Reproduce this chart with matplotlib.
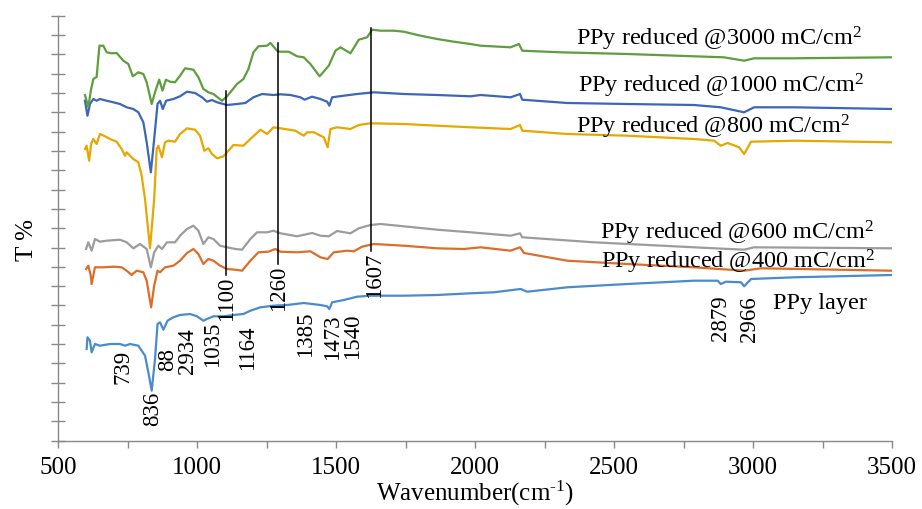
import matplotlib
matplotlib.use('Agg')
import matplotlib.pyplot as plt
import numpy as np

plt.rcParams['font.family'] = ['Liberation Serif', 'DejaVu Serif']
plt.rcParams['mathtext.fontset'] = 'custom'
plt.rcParams['mathtext.rm'] = 'Liberation Serif'
plt.rcParams['mathtext.it'] = 'Liberation Serif:italic'
plt.rcParams['mathtext.bf'] = 'Liberation Serif:bold'

# ---------------- data (wavenumber, offset transmittance) ----------------
wn_layer = [603, 606, 615, 621, 633, 651, 687, 723, 741, 759,
            789, 813, 825, 837, 849, 858, 867, 879, 894, 915,
            939, 975, 1000, 1023, 1036, 1059, 1095, 1131, 1167, 1192,
            1228, 1275, 1324, 1384, 1444, 1468, 1476, 1486, 1528, 1576,
            1624, 1744, 1864, 1984, 2068, 2164, 2188, 2332, 2548, 2788,
            2873, 2884, 2903, 2957, 2968, 2993, 3149, 3500]
t_layer = [91.7, 103.4, 100, 88.4, 96.7, 95, 96.7, 96.7, 95, 96.7,
           95, 85, 68.4, 50, 81.7, 116.7, 118.4, 111, 120, 123.4,
           125.7, 126.7, 124.4, 120, 121.7, 124.4, 124.4, 125.7, 126.7, 130,
           133.4, 135, 135.7, 137.7, 135.7, 134.4, 131.7, 138.4, 140.7, 144,
           145, 145, 145.7, 147.4, 148.4, 151.7, 149, 153.4, 156.7, 160,
           160, 156.7, 159, 158.4, 154.4, 161.7, 163.4, 165.7]

wn_400 = [601, 609, 618, 621, 633, 663, 699, 729, 747, 765,
          783, 807, 819, 835, 846, 858, 867, 885, 915, 939,
          964, 987, 1005, 1023, 1041, 1059, 1083, 1108, 1138, 1162,
          1192, 1221, 1257, 1282, 1300, 1360, 1408, 1444, 1470, 1492,
          1540, 1564, 1594, 1636, 1744, 1864, 1960, 2020, 2128, 2162,
          2176, 2332, 2548, 2788, 2968, 3029, 3500]
t_400 = [171.7, 175, 165, 156.7, 173.4, 173.4, 174, 173.4, 170, 165.7,
         170, 168.4, 160, 133.4, 155, 170, 168.4, 173.4, 175, 180,
         187.7, 191.7, 186.7, 176.7, 181.7, 180, 175, 171.7, 171, 170,
         180, 188.4, 189, 191.7, 189, 188.4, 189.4, 183.4, 181.7, 188.4,
         190, 189.4, 194, 196.7, 195, 192.4, 191.7, 193.4, 190, 193.4,
         187.7, 180, 176.7, 173.4, 170, 172.4, 170]

wn_600 = [601, 609, 621, 633, 651, 675, 723, 747, 771, 795,
          819, 834, 846, 861, 874, 892, 921, 939, 964, 987,
          1005, 1023, 1041, 1059, 1083, 1108, 1138, 1162, 1192, 1216,
          1252, 1275, 1300, 1360, 1414, 1444, 1474, 1504, 1552, 1582,
          1624, 1660, 1744, 1864, 1984, 2128, 2162, 2170, 2428, 2788,
          2968, 3004, 3500]
t_600 = [191.7, 198.4, 190, 201.7, 199, 200, 201, 198.4, 192.4, 196.7,
         191.7, 173.4, 188.4, 195, 191.7, 198.4, 198.4, 205, 211.7, 215,
         210, 196.7, 203.4, 201.7, 195, 193.4, 191.7, 191, 201.7, 208.4,
         208.4, 210, 207.4, 204.4, 207.7, 205, 204.4, 209.7, 207.4, 212.4,
         215.7, 216.7, 214.4, 211, 208.4, 205, 207.4, 203.4, 198.4, 193.4,
         191, 193.4, 192.4]

wn_800 = [597, 603, 612, 619, 627, 639, 651, 669, 687, 711,
          729, 741, 747, 771, 789, 801, 813, 831, 846, 855,
          861, 874, 885, 897, 921, 939, 964, 993, 1011, 1026,
          1041, 1054, 1072, 1095, 1113, 1131, 1167, 1192, 1228, 1252,
          1275, 1300, 1354, 1384, 1396, 1420, 1456, 1470, 1480, 1504,
          1552, 1582, 1624, 1744, 1864, 1984, 2128, 2162, 2170, 2332,
          2548, 2788, 2860, 2884, 2909, 2950, 2968, 2993, 3149, 3500]
t_800 = [291.7, 295, 280, 296.7, 301.7, 296.7, 306.7, 304.4, 301.7, 299,
         291.7, 285, 288.4, 281.7, 278.4, 265, 241.7, 192.4, 241.7, 291.7,
         295, 283.4, 298.4, 300, 299, 306.7, 312.4, 311, 305, 290,
         292.4, 286.7, 282.4, 284.4, 290, 295.7, 295, 301.7, 311, 306.7,
         313.4, 312.4, 310, 305, 308.4, 308.4, 303.4, 293.4, 311.7, 313.4,
         311.7, 315.7, 317.4, 316.7, 315, 313.4, 311.7, 315.7, 310, 306.7,
         305, 301.7, 300, 295, 297.7, 293.4, 286.7, 299, 300, 298.4]

wn_1000 = [597, 606, 615, 627, 639, 651, 675, 699, 723, 747,
           771, 789, 807, 819, 834, 846, 858, 867, 877, 889,
           915, 939, 964, 993, 1018, 1036, 1054, 1072, 1108, 1144,
           1174, 1203, 1234, 1275, 1300, 1336, 1372, 1387, 1414, 1444,
           1468, 1476, 1486, 1528, 1576, 1636, 1744, 1864, 1984, 2020,
           2128, 2162, 2170, 2332, 2548, 2788, 2884, 2968, 3004, 3149,
           3500]
t_1000 = [340, 325, 336.7, 341.7, 340, 341.7, 340, 338.4, 336.7, 333.4,
          331.7, 328.4, 318.4, 298.4, 268.4, 301.7, 336.7, 340, 331.7, 340,
          341.7, 344.4, 349, 347.7, 343.4, 339, 340.7, 338.4, 335.7, 336.7,
          337.7, 343.4, 346.7, 345.7, 346.4, 345.7, 343.4, 341, 344, 341.7,
          339, 335, 343.4, 345, 346.7, 348.4, 346.7, 345.7, 344.4, 345.7,
          343.4, 346.7, 341, 337.7, 336.7, 335.7, 333.4, 328.4, 333.4, 333.4,
          331.7]

wn_3000 = [597, 609, 618, 627, 639, 649, 663, 675, 693, 711,
           735, 753, 769, 789, 807, 819, 837, 849, 864, 876,
           888, 903, 921, 939, 957, 987, 1005, 1023, 1041, 1059,
           1090, 1108, 1144, 1167, 1185, 1203, 1221, 1252, 1264, 1288,
           1294, 1330, 1360, 1384, 1408, 1441, 1474, 1498, 1516, 1552,
           1582, 1612, 1630, 1660, 1708, 1744, 1804, 1864, 1924, 1984,
           2020, 2128, 2158, 2170, 2308, 2548, 2788, 2895, 2968, 3004,
           3149, 3500]
t_3000 = [345.7, 333.7, 350, 361.7, 363.7, 395, 395, 388.4, 387.4, 387.7,
          380, 376.7, 364.4, 368.4, 366.7, 358.4, 336.7, 348.4, 361, 350,
          361, 359, 358.4, 365, 372.4, 371, 363.4, 351.7, 348.4, 346.7,
          340, 344.4, 356.7, 361.7, 371.7, 388.4, 394.4, 395, 397.7, 390,
          389, 389, 384.4, 383.4, 376.7, 364.4, 375, 390, 393.4, 387.4,
          401, 403.4, 411, 410, 410, 409, 405, 401.7, 399, 396.7,
          395, 393.4, 396.7, 390, 388.4, 386.7, 384.4, 383.4, 380, 382.4,
          382.4, 383.4]

series_labels = ['PPy layer', 'PPy reduced @400 mC/cm$^2$', 'PPy reduced @600 mC/cm$^2$',
                 'PPy reduced @800 mC/cm$^2$', 'PPy reduced @1000 mC/cm$^2$',
                 'PPy reduced @3000 mC/cm$^2$']
label_wn = [3072, 2452, 2450, 2362, 2371, 2362]
label_y = [132.4, 173.4, 202.4, 308.4, 349, 396.7]

vline_wn = [1105, 1291, 1625]
vline_top = [349.4, 397.4, 412.4]
vline_bottom = [165.7, 176.7, 189.7]
vline_text = ['1100', '1260', '1607']
vline_text_wn = [1105, 1295, 1637]

peak_text = ['739', '836', '88', '2934', '1035', '1164', '1385', '1473', '1540', '2879', '2966']
peak_wn = [735, 840, 896, 965, 1057, 1183, 1390, 1486, 1558, 2884, 2989]
peak_top = [91.7, 49.7, 93.7, 113.7, 119.7, 116.7, 130, 126.7, 128.4, 146.7, 145]

colors = ['#4a8bcb', '#dd6e2a', '#9c9c9c', '#e6a800', '#3c66b8', '#5e9e3e']

# ---------------- figure ----------------
fig = plt.figure(figsize=(9.22, 5.10), dpi=100)
ax = fig.add_axes([58 / 922, 1 - 441.7 / 510, 834 / 922, 425 / 510])

all_wn = [wn_layer, wn_400, wn_600, wn_800, wn_1000, wn_3000]
all_t = [t_layer, t_400, t_600, t_800, t_1000, t_3000]
for wn, t, c in zip(all_wn, all_t, colors):
    assert len(wn) == len(t)
    ax.plot(wn, t, color=c, lw=1.6, solid_joinstyle='round')

for txt, x, y in zip(series_labels, label_wn, label_y):
    ax.text(x, y, txt, fontsize=17.5, ha='left', va='baseline')

for x, top, bot, txt, tx in zip(vline_wn, vline_top, vline_bottom, vline_text, vline_text_wn):
    ax.plot([x, x], [top, bot], color='black', lw=1.1)
    ax.text(tx, bot - 1, txt, rotation=90, rotation_mode='anchor',
            ha='right', va='center', fontsize=16.5)

for txt, x, top in zip(peak_text, peak_wn, peak_top):
    ax.text(x, top, txt, rotation=90, rotation_mode='anchor',
            ha='right', va='center', fontsize=16.5)

gray = '#898989'
ax.set_xlim(500, 3500)
ax.set_ylim(0, 425)
ax.set_xticks(np.arange(500, 3501, 500))
ax.set_xticks(np.arange(750, 3500, 500), minor=True)
ax.set_yticks(np.linspace(0, 425, 23))
ax.set_yticklabels([])
ax.tick_params(axis='y', direction='inout', length=9.5, color=gray, width=1)
ax.tick_params(axis='x', which='both', direction='out', length=5, color=gray,
               width=1, labelsize=18, pad=6)
for s in ['top', 'right']:
    ax.spines[s].set_visible(False)
for s in ['left', 'bottom']:
    ax.spines[s].set_color(gray)
    ax.spines[s].set_linewidth(1)

ax.set_xlabel('Wavenumber(cm$^{\\text{-}1}$)', fontsize=18)
ax.xaxis.set_label_coords(0.5, -0.088)
ax.set_ylabel('T %', fontsize=18)
ax.yaxis.set_label_coords(-0.024, 0.475)

fig.savefig('out.png', dpi=100)
